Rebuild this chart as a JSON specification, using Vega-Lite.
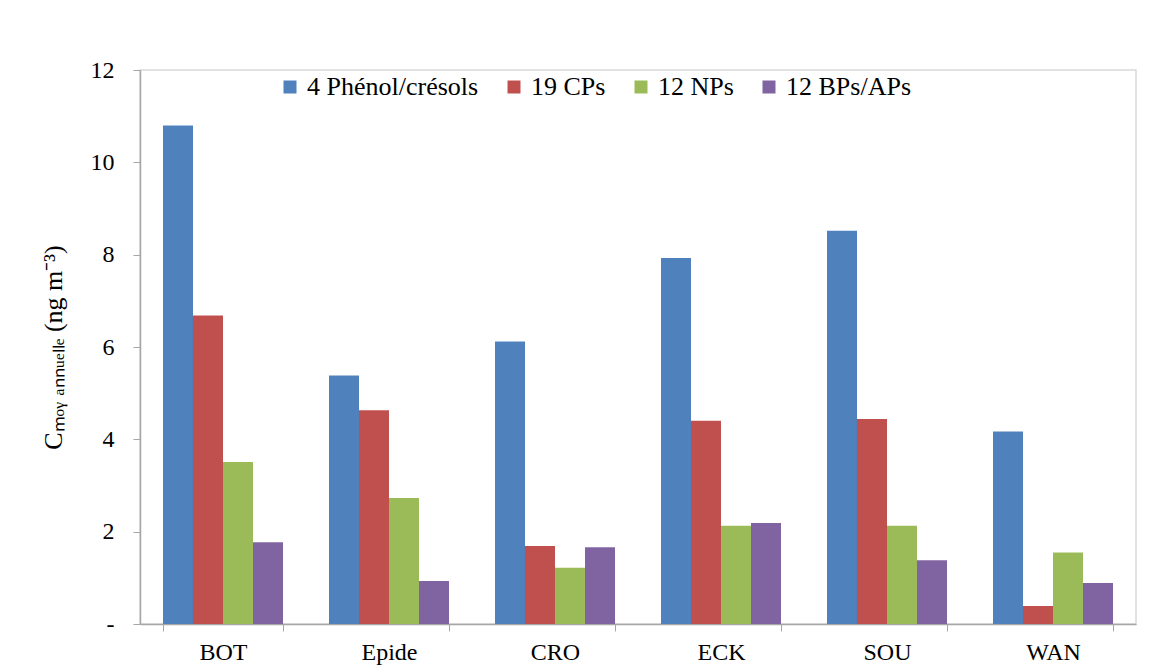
{
  "$schema": "https://vega.github.io/schema/vega-lite/v6.json",
  "autosize": "none",
  "width": 996,
  "height": 554,
  "padding": {"left": 140, "top": 70, "right": 21, "bottom": 42},
  "background": "white",
  "config": {
    "font": "Liberation Serif",
    "view": {"stroke": "#d9d9d9", "strokeWidth": 1.5},
    "axis": {"labelFont": "Liberation Serif", "titleFont": "Liberation Serif", "labelColor": "black", "titleColor": "black", "domainColor": "#a6a6a6", "tickColor": "#a6a6a6", "grid": false},
    "legend": {"labelFont": "Times New Roman", "labelColor": "black"},
    "style": {"guide-label": {"font": "Liberation Serif"}}
  },
  "data": {
    "values": [
      {"site": "BOT", "groupe": "4 Phénol/crésols", "c": 10.80},
      {"site": "BOT", "groupe": "19 CPs", "c": 6.68},
      {"site": "BOT", "groupe": "12 NPs", "c": 3.51},
      {"site": "BOT", "groupe": "12 BPs/APs", "c": 1.77},
      {"site": "Epide", "groupe": "4 Phénol/crésols", "c": 5.38},
      {"site": "Epide", "groupe": "19 CPs", "c": 4.63},
      {"site": "Epide", "groupe": "12 NPs", "c": 2.73},
      {"site": "Epide", "groupe": "12 BPs/APs", "c": 0.93},
      {"site": "CRO", "groupe": "4 Phénol/crésols", "c": 6.12},
      {"site": "CRO", "groupe": "19 CPs", "c": 1.69},
      {"site": "CRO", "groupe": "12 NPs", "c": 1.22},
      {"site": "CRO", "groupe": "12 BPs/APs", "c": 1.66},
      {"site": "ECK", "groupe": "4 Phénol/crésols", "c": 7.93},
      {"site": "ECK", "groupe": "19 CPs", "c": 4.40},
      {"site": "ECK", "groupe": "12 NPs", "c": 2.13},
      {"site": "ECK", "groupe": "12 BPs/APs", "c": 2.19},
      {"site": "SOU", "groupe": "4 Phénol/crésols", "c": 8.52},
      {"site": "SOU", "groupe": "19 CPs", "c": 4.44},
      {"site": "SOU", "groupe": "12 NPs", "c": 2.13},
      {"site": "SOU", "groupe": "12 BPs/APs", "c": 1.38},
      {"site": "WAN", "groupe": "4 Phénol/crésols", "c": 4.17},
      {"site": "WAN", "groupe": "19 CPs", "c": 0.39},
      {"site": "WAN", "groupe": "12 NPs", "c": 1.55},
      {"site": "WAN", "groupe": "12 BPs/APs", "c": 0.89}
    ]
  },
  "mark": {"type": "bar"},
  "encoding": {
    "x": {
      "field": "site", "type": "nominal", "sort": null,
      "scale": {"paddingInner": 0.277, "paddingOuter": 0.1385},
      "axis": {"title": null, "labelAngle": 0, "labelFontSize": 24, "tickBand": "extent", "tickSize": 7, "labelPadding": 9, "domainWidth": 1.5}
    },
    "xOffset": {
      "field": "groupe", "type": "nominal", "sort": ["4 Phénol/crésols", "19 CPs", "12 NPs", "12 BPs/APs"],
      "scale": {"paddingInner": 0, "paddingOuter": 0}
    },
    "y": {
      "field": "c", "type": "quantitative",
      "scale": {"domain": [0, 12], "nice": false},
      "axis": {
        "title": "Cₘₒᵧ ₐₙₙᵤₑₗₗₑ (ng m⁻³)",
        "titleFontSize": 26, "titleFontWeight": "normal", "titlePadding": 24,
        "values": [0, 2, 4, 6, 8, 10, 12],
        "labelExpr": "datum.value == 0 ? '-' : datum.label",
        "labelFontSize": 24, "tickSize": 7, "labelPadding": 19, "domainWidth": 1.5
      }
    },
    "color": {
      "field": "groupe", "type": "nominal",
      "sort": ["4 Phénol/crésols", "19 CPs", "12 NPs", "12 BPs/APs"],
      "scale": {"domain": ["4 Phénol/crésols", "19 CPs", "12 NPs", "12 BPs/APs"], "range": ["#4F81BD", "#C0504D", "#9BBB59", "#8064A2"]},
      "legend": {
        "title": null, "orient": "none", "direction": "horizontal",
        "legendX": 137, "legendY": 4,
        "symbolType": "square", "symbolSize": 169, "symbolStrokeWidth": 0,
        "labelFontSize": 26, "labelFont": "Times New Roman", "labelColor": "black",
        "labelOffset": 4, "columnPadding": 22, "labelLimit": 400
      }
    }
  }
}
